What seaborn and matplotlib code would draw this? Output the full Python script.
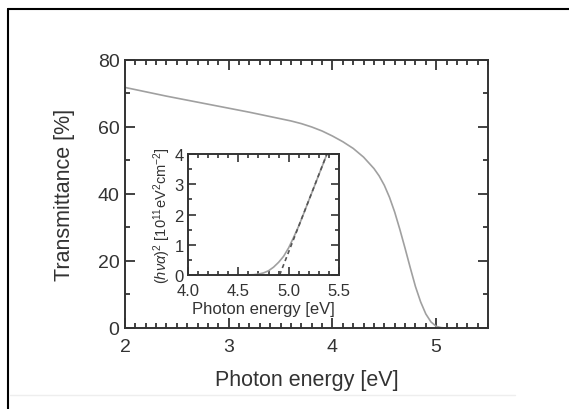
import numpy as np
import pandas as pd
import matplotlib
matplotlib.use("Agg")
import matplotlib.pyplot as plt
from matplotlib.lines import Line2D
from matplotlib.ticker import MultipleLocator
import seaborn as sns

# transmittance spectrum
energy = [2.0, 2.2, 2.4, 2.6, 2.8, 3.0, 3.2, 3.4, 3.6, 3.7, 3.8, 3.9, 4.0,
          4.1, 4.2, 4.3, 4.4, 4.45, 4.5, 4.55, 4.6, 4.65, 4.7, 4.75, 4.8,
          4.85, 4.9, 4.95, 5.0, 5.05, 5.1]
transmittance = [71.8, 70.5, 69.2, 68.0, 66.8, 65.6, 64.4, 63.1, 61.8, 61.0,
                 60.0, 58.8, 57.3, 55.6, 53.6, 51.0, 47.6, 45.4, 42.6, 39.0,
                 34.6, 29.4, 23.8, 18.0, 12.4, 7.8, 4.2, 1.8, 0.5, 0.1, 0.0]

# inset: Tauc plot
tauc_e = [4.55, 4.6, 4.65, 4.7, 4.75, 4.8, 4.85, 4.9, 4.95, 5.0, 5.05, 5.1,
          5.15, 5.2, 5.25, 5.3, 5.35, 5.38]
tauc_y = [0.0, 0.005, 0.01, 0.03, 0.07, 0.14, 0.26, 0.42, 0.62, 0.9, 1.25,
          1.62, 2.04, 2.47, 2.89, 3.32, 3.74, 4.0]
fit_e = [4.91, 5.38]
fit_y = [0.0, 4.0]

sns.set_style("ticks")
plt.rcParams['font.family'] = ['Liberation Sans', 'DejaVu Sans']
plt.rcParams['mathtext.fontset'] = 'custom'
plt.rcParams['mathtext.rm'] = 'Liberation Sans'
plt.rcParams['mathtext.it'] = 'Liberation Sans:italic'
plt.rcParams['text.color'] = '#333333'
plt.rcParams['axes.labelcolor'] = '#333333'
plt.rcParams['xtick.color'] = '#333333'
plt.rcParams['ytick.color'] = '#333333'

fig = plt.figure(figsize=(5.69, 4.10), dpi=100)
ax = fig.add_axes([0.2197, 0.1976, 0.638, 0.6537])

df = pd.DataFrame({"E": energy, "T": transmittance})
sns.lineplot(data=df, x="E", y="T", ax=ax, color="#a0a0a0", linewidth=1.2)
ax.set_xlim(2, 5.5)
ax.set_ylim(0, 80)
ax.xaxis.set_major_locator(MultipleLocator(1))
ax.xaxis.set_minor_locator(MultipleLocator(0.1))
ax.yaxis.set_major_locator(MultipleLocator(20))
ax.yaxis.set_minor_locator(MultipleLocator(10))
ax.tick_params(which='both', direction='in', top=True, right=True, width=1.3,
               labelsize=14)
ax.tick_params(which='major', length=7, pad=4)
ax.tick_params(axis='x', which='major', pad=7)
ax.tick_params(which='minor', length=3.5)
ax.set_xlabel("Photon energy [eV]", fontsize=15.5, labelpad=10)
ax.set_ylabel("Transmittance [%]", fontsize=15.5, labelpad=16)
for s in ax.spines.values():
    s.set_linewidth(1.4)
    s.set_color('#333333')

# inset
axi = fig.add_axes([0.3304, 0.3268, 0.2654, 0.2951])
sns.lineplot(x=tauc_e, y=tauc_y, ax=axi, color="#a0a0a0", linewidth=1.2)
sns.lineplot(x=fit_e, y=fit_y, ax=axi, color="#555555", linewidth=1.2,
             linestyle=(0, (2.5, 2)))
axi.set_xlim(4.0, 5.5)
axi.set_ylim(0, 4)
axi.xaxis.set_major_locator(MultipleLocator(0.5))
axi.xaxis.set_minor_locator(MultipleLocator(0.1))
axi.yaxis.set_major_locator(MultipleLocator(1))
axi.yaxis.set_minor_locator(MultipleLocator(0.5))
axi.xaxis.set_major_formatter(plt.FormatStrFormatter('%.1f'))
axi.tick_params(which='both', direction='in', top=True, right=True, width=1.2,
                labelsize=12)
axi.tick_params(which='major', length=6, pad=3)
axi.tick_params(axis='x', which='major', pad=6)
axi.tick_params(which='minor', length=3)
axi.set_xlabel("Photon energy [eV]", fontsize=12, labelpad=2)
axi.set_ylabel(r"$(h\nu\alpha)^2$ [10$^{11}$eV$^2$cm$^{-2}$]", fontsize=10.5,
               labelpad=1)
for s in axi.spines.values():
    s.set_linewidth(1.4)
    s.set_color('#333333')

# frame around the picture (left and top only visible)
fig.add_artist(Line2D([7.5 / 569, 7.5 / 569], [0, 1 - 10 / 410],
                      transform=fig.transFigure, color='black', lw=1.5))
fig.add_artist(Line2D([7.5 / 569, 1], [1 - 10 / 410, 1 - 10 / 410],
                      transform=fig.transFigure, color='black', lw=1.5))
fig.add_artist(Line2D([10 / 569, 515 / 569], [1 - 396 / 410, 1 - 396 / 410],
                      transform=fig.transFigure, color='#eeeeee', lw=1))

fig.savefig("out.png", dpi=100)
